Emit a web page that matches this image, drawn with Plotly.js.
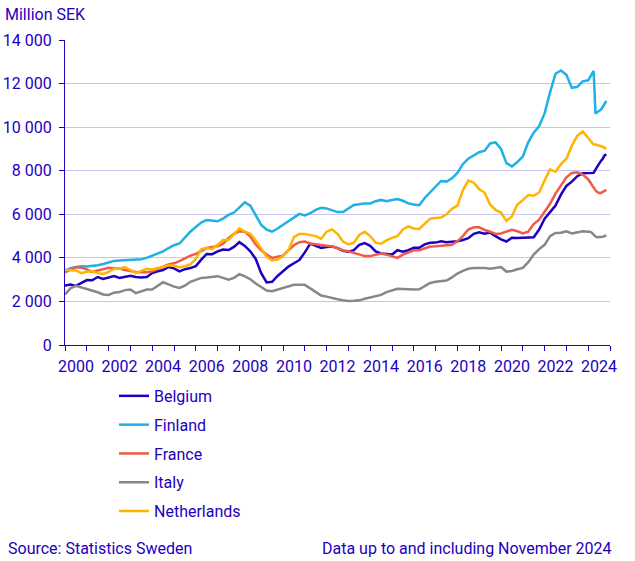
<!DOCTYPE html>
<html>
<head>
<meta charset="utf-8">
<script src="https://cdn.plot.ly/plotly-3.0.1.min.js"></script>
<style>html,body{margin:0;padding:0;background:#fff;}#chart{width:635px;height:561px;}</style>
</head>
<body>
<div id="chart"></div>
<script>
// Periods: quarterly 2000–2023 (Jan, Apr, Jul, Oct), then monthly Jan–Nov 2024
const periods = [];
for (let y = 2000; y <= 2023; y++) { [1, 4, 7, 10].forEach(m => periods.push(y + '-' + String(m).padStart(2, '0'))); }
for (let m = 1; m <= 11; m++) periods.push('2024-' + String(m).padStart(2, '0'));

const countries = ['Belgium', 'Finland', 'France', 'Italy', 'Netherlands'];

const belgium = [
2730,2780,2710,2850, 2980,2970,3120,3030, 3080,3160,3080,3120, 3180,3120,3100,3120,
3300,3380,3440,3580, 3520,3380,3480,3530, 3620,3920,4180,4170, 4300,4380,4360,4500,
4720,4550,4300,3950, 3300,2870,2900,3170, 3380,3600,3750,3900, 4250,4650,4550,4460,
4500,4520,4450,4320, 4280,4350,4600,4680, 4550,4300,4200,4180, 4150,4350,4280,4350,
4460,4460,4620,4690, 4700,4760,4720,4740, 4760,4820,4900,5100, 5170,5110,5160,5000,
4850,4750,4920,4910, 4930,4950,4950,5300, 5800,6100,6400,6900, 7300,7500,7750,7880,
7880,7880,7880,7900,8050,8200,8300,8450,8550,8700,8750];

const finland = [
3420,3520,3580,3620, 3600,3620,3660,3720, 3780,3860,3880,3900, 3920,3920,3940,4000,
4100,4200,4300,4450, 4580,4660,4950,5200, 5420,5620,5740,5720, 5680,5800,5970,6080,
6330,6550,6400,5950, 5510,5300,5200,5350, 5520,5680,5880,6020, 5950,6050,6200,6300,
6270,6200,6100,6100, 6250,6430,6460,6500, 6500,6600,6660,6600, 6660,6700,6620,6500,
6450,6420,6750,7000, 7250,7530,7500,7650, 7900,8300,8550,8700, 8850,8920,9250,9300,
9000,8350,8200,8400, 8650,9300,9750,10050, 10630,11600,12450,12600, 12400,11800,11850,12100,
12150,12300,12450,12580,10620,10700,10750,10800,10950,11100,11200];

const france = [
3340,3450,3570,3550, 3470,3350,3420,3500, 3540,3520,3510,3440, 3390,3350,3340,3340,
3380,3500,3600,3700, 3750,3850,3980,4100, 4180,4300,4450,4500, 4530,4650,4900,5100,
5220,5200,4980,4620, 4350,4150,4000,4050, 4100,4350,4580,4720, 4750,4660,4620,4580,
4570,4520,4450,4350, 4300,4220,4150,4080, 4080,4150,4200,4150, 4080,4000,4150,4250,
4350,4350,4450,4520, 4530,4550,4560,4600, 4760,5000,5300,5400, 5400,5280,5200,5100,
5120,5200,5290,5220, 5120,5200,5550,5750, 6130,6480,6950,7350, 7700,7900,7930,7820,
7600,7480,7350,7200,7100,7020,6980,6980,7020,7080,7120];

const italy = [
2320,2600,2720,2650, 2580,2500,2420,2320, 2300,2400,2430,2520, 2550,2380,2450,2550,
2550,2700,2880,2780, 2680,2620,2720,2900, 3000,3080,3100,3120, 3160,3080,3000,3080,
3250,3150,3020,2820, 2650,2500,2470,2550, 2630,2700,2760,2760, 2760,2600,2450,2270,
2220,2150,2100,2050, 2020,2030,2050,2120, 2170,2220,2300,2430, 2500,2580,2570,2550,
2550,2560,2700,2850, 2900,2920,2960,3100, 3280,3400,3500,3530, 3540,3540,3500,3550,
3580,3370,3400,3480, 3540,3800,4150,4400, 4600,5000,5140,5150, 5220,5120,5180,5220,
5200,5200,5150,5050,4980,4950,4950,4960,4970,5000,5030];

const netherlands = [
3440,3440,3420,3300, 3360,3380,3300,3260, 3350,3500,3500,3580, 3450,3300,3400,3500,
3470,3520,3590,3650, 3650,3560,3620,3700, 3950,4400,4450,4400, 4600,4820,4820,5100,
5350,5200,5100,4800, 4450,4050,3880,3920, 4080,4350,4950,5100, 5100,5050,5000,4880,
5200,5300,5100,4750, 4620,4700,5050,5200, 5000,4700,4650,4800, 4920,5000,5300,5450,
5350,5330,5550,5800, 5830,5850,6000,6250, 6400,7100,7550,7450, 7150,7000,6450,6200,
6080,5700,5900,6450, 6650,6880,6850,7000, 7550,8060,7950,8300, 8550,9150,9600,9800,
9500,9400,9250,9200,9200,9180,9170,9150,9100,9050,9000];

const tickLabels = ['2000','2002','2004','2006','2008','2010','2012','2014','2016','2018','2020','2022','2024'];

const colors = ['#1e00be', '#1eb0e6', '#f05a46', '#878787', '#ffb400'];
const series = [belgium, finland, france, italy, netherlands];

const xs = periods.map(p => { const [y, m] = p.split('-').map(Number); return y + (m - 1) / 12; });

const traces = series.map((vals, i) => ({
  type: 'scatter', mode: 'lines', name: countries[i], legendgroup: countries[i],
  x: xs, y: vals, line: { color: colors[i], width: 2.5 }, hoverinfo: 'skip'
}));

const textColor = '#1e00be';
const layout = {
  width: 635, height: 561,
  margin: { l: 65, r: 25, t: 40, b: 216 },
  paper_bgcolor: '#ffffff', plot_bgcolor: '#ffffff',
  font: { family: 'Roboto, sans-serif', size: 16, color: textColor },
  separators: ', ',
  showlegend: true,
  legend: {
    x: 0.0899, y: -0.1113, xanchor: 'left', yanchor: 'top', orientation: 'v',
    font: { size: 16, color: textColor }, tracegroupgap: 5, bgcolor: 'rgba(0,0,0,0)'
  },
  xaxis: {
    range: [2000, 2025], tickmode: 'array',
    tickvals: tickLabels.map(t => Number(t) + 0.5), ticktext: tickLabels,
    ticks: 'outside', ticklen: 5, tickcolor: 'rgba(0,0,0,0)', ticklabelstandoff: 2,
    showline: true, linecolor: textColor, linewidth: 1,
    showgrid: false, zeroline: false,
    minor: { tickmode: 'linear', tick0: 2000, dtick: 1, ticks: 'outside', ticklen: 5, tickcolor: textColor, tickwidth: 1, showgrid: false },
    tickfont: { size: 16, color: textColor }, fixedrange: true
  },
  yaxis: {
    range: [0, 14000], tickmode: 'linear', tick0: 0, dtick: 2000, tickformat: ',d',
    ticks: 'outside', ticklen: 5, tickcolor: textColor, tickwidth: 1, ticklabelstandoff: 4,
    showline: true, linecolor: textColor, linewidth: 1,
    showgrid: true, gridcolor: '#c8c3f0', gridwidth: 1, zeroline: false,
    tickfont: { size: 16, color: textColor }, fixedrange: true
  },
  annotations: [
    { text: 'Million SEK', xref: 'paper', yref: 'paper', x: -0.114, y: 1.0852, xanchor: 'left', yanchor: 'middle', showarrow: false, font: { size: 16, color: textColor } },
    { text: 'Source: Statistics Sweden', xref: 'paper', yref: 'paper', x: -0.1083, y: -0.6656, xanchor: 'left', yanchor: 'middle', showarrow: false, font: { size: 16, color: textColor } },
    { text: 'Data up to and including November 2024', xref: 'paper', yref: 'paper', x: 1.0073, y: -0.6656, xanchor: 'right', yanchor: 'middle', showarrow: false, font: { size: 16, color: textColor } }
  ]
};

Plotly.newPlot('chart', traces, layout, { displayModeBar: false, staticPlot: true });
</script>
</body>
</html>
